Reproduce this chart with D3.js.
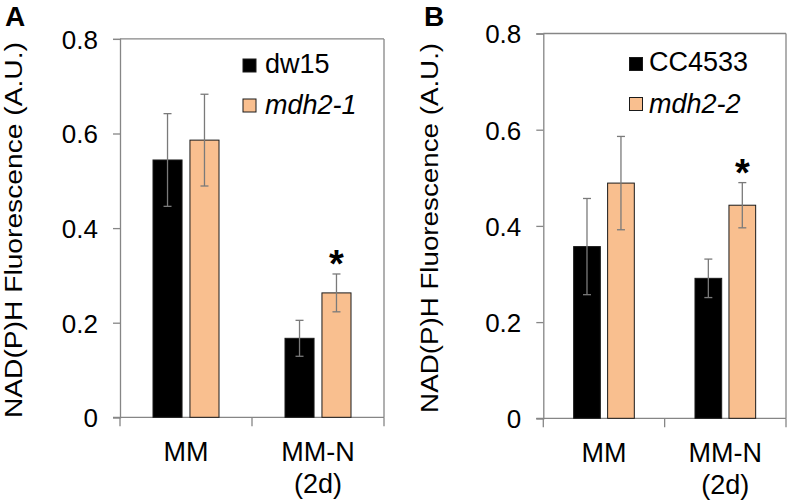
<!DOCTYPE html>
<html>
<head>
<meta charset="utf-8">
<script src="https://cdn.jsdelivr.net/npm/d3@7"></script>
<style>
  html, body { margin: 0; padding: 0; background: #fff; }
  svg { display: block; font-family: "Liberation Sans", Arial, sans-serif; }
</style>
</head>
<body>
<svg id="chart" width="789" height="502"></svg>
<script>
// ---- data ----
const categories = [["MM"], ["MM-N", "(2d)"]];
const yTicks = [0, 0.2, 0.4, 0.6, 0.8];
const yTickLabels = ["0", "0.2", "0.4", "0.6", "0.8"];
const yTitle = "NAD(P)H Fluorescence (A.U.)";

const seriesA = ["dw15", "mdh2-1"];
const dw15Values = [0.544, 0.167];
const dw15Errors = [0.098, 0.038];
const mdh21Values = [0.586, 0.263];
const mdh21Errors = [0.097, 0.040];
const mdh21Signif = [false, true];

const seriesB = ["CC4533", "mdh2-2"];
const cc4533Values = [0.357, 0.291];
const cc4533Errors = [0.100, 0.040];
const mdh22Values = [0.489, 0.443];
const mdh22Errors = [0.097, 0.047];
const mdh22Signif = [false, true];

const colors = ["#000000", "#F9BF8F"];
const italic = [false, true];

const panels = [
  {
    letter: "A", series: seriesA,
    values: [dw15Values, mdh21Values], errors: [dw15Errors, mdh21Errors], signif: [null, mdh21Signif],
    left: 120, right: 384, top: 38.9, bottom: 417.3,
    titleX: 21.5, titleLen: 376, letterX: 5,
    legendX: 243, legendY: [59, 99], legendTextX: 265, legendBase: [73, 114]
  },
  {
    letter: "B", series: seriesB,
    values: [cc4533Values, mdh22Values], errors: [cc4533Errors, mdh22Errors], signif: [null, mdh22Signif],
    left: 543.3, right: 786, top: 33.5, bottom: 418.3,
    titleX: 437.5, titleLen: 370, letterX: 424,
    legendX: 629.5, legendY: [57.5, 97.5], legendTextX: 649, legendBase: [71, 113]
  }
];

const svg = d3.select("#chart");
const axisColor = "#868686";

panels.forEach(p => {
  const g = svg.append("g");
  const y = d3.scaleLinear().domain([0, 0.8]).range([p.bottom, p.top]);
  const x0 = d3.scaleBand().domain(d3.range(categories.length)).range([p.left, p.right]).padding(0);
  const x1 = d3.scaleBand().domain(d3.range(p.series.length)).range([0, x0.bandwidth()])
    .paddingInner(0.214).paddingOuter(0.893);

  // frame: top and right borders
  g.append("line").attr("x1", p.left).attr("x2", p.right).attr("y1", p.top).attr("y2", p.top)
    .attr("stroke", axisColor).attr("stroke-width", 1.3);
  g.append("line").attr("x1", p.right).attr("x2", p.right).attr("y1", p.top).attr("y2", p.bottom)
    .attr("stroke", axisColor).attr("stroke-width", 1.3);

  // y axis
  const yAxis = d3.axisLeft(y).tickValues(yTicks).tickSize(7).tickPadding(15)
    .tickFormat((d, i) => yTickLabels[i]);
  const ya = g.append("g").attr("transform", `translate(${p.left},0)`).call(yAxis);
  ya.select(".domain").attr("stroke", axisColor).attr("stroke-width", 1.3);
  ya.selectAll(".tick line").attr("stroke", axisColor).attr("stroke-width", 1.3);
  ya.selectAll(".tick text").attr("font-size", 26).attr("fill", "#000")
    .attr("font-family", "Liberation Sans, Arial, sans-serif").attr("dy", "0.36em");

  // x axis with ticks at category boundaries
  const xa = g.append("g").attr("transform", `translate(0,${p.bottom})`);
  xa.append("line").attr("x1", p.left - 7).attr("x2", p.right).attr("stroke", axisColor).attr("stroke-width", 1.3);
  const bounds = x0.domain().map(i => x0(i)).concat([x0(x0.domain().length - 1) + x0.bandwidth()]);
  xa.selectAll("line.xt").data(bounds).join("line").attr("class", "xt")
    .attr("x1", d => d).attr("x2", d => d).attr("y1", 0).attr("y2", 9)
    .attr("stroke", axisColor).attr("stroke-width", 1.3);
  categories.forEach((lines, i) => {
    const t = xa.append("text").attr("x", x0(i) + x0.bandwidth() / 2).attr("text-anchor", "middle")
      .attr("font-size", 27).attr("fill", "#000");
    lines.forEach((ln, j) => {
      t.append("tspan").attr("x", x0(i) + x0.bandwidth() / 2).attr("y", 44 + j * 32).text(ln);
    });
  });

  // bars
  p.series.forEach((s, si) => {
    const vals = p.values[si], errs = p.errors[si];
    const rows = vals.map((v, i) => ({ i, v, e: errs[i], sig: p.signif[si] ? p.signif[si][i] : false }));
    const bg = g.append("g");
    const cx = d => x0(d.i) + x1(si) + x1.bandwidth() / 2;
    bg.selectAll("rect").data(rows).join("rect")
      .attr("x", d => x0(d.i) + x1(si))
      .attr("y", d => y(d.v))
      .attr("width", x1.bandwidth())
      .attr("height", d => y(0) - y(d.v))
      .attr("fill", colors[si])
      .attr("stroke", "#1a1a1a").attr("stroke-width", 1);
    // error bars
    bg.selectAll("line.ev").data(rows).join("line").attr("class", "ev")
      .attr("x1", cx).attr("x2", cx)
      .attr("y1", d => y(d.v + d.e)).attr("y2", d => y(d.v - d.e))
      .attr("stroke", "#7a7a7a").attr("stroke-width", 1.3);
    bg.selectAll("line.et").data(rows).join("line").attr("class", "et")
      .attr("x1", d => cx(d) - 4).attr("x2", d => cx(d) + 4)
      .attr("y1", d => y(d.v + d.e)).attr("y2", d => y(d.v + d.e))
      .attr("stroke", "#7a7a7a").attr("stroke-width", 1.3);
    bg.selectAll("line.eb").data(rows).join("line").attr("class", "eb")
      .attr("x1", d => cx(d) - 4).attr("x2", d => cx(d) + 4)
      .attr("y1", d => y(d.v - d.e)).attr("y2", d => y(d.v - d.e))
      .attr("stroke", "#7a7a7a").attr("stroke-width", 1.3);
    // significance
    bg.selectAll("text.sig").data(rows.filter(d => d.sig)).join("text").attr("class", "sig")
      .attr("x", cx).attr("y", d => y(d.v + d.e) + 3)
      .attr("text-anchor", "middle").attr("font-size", 38).attr("font-weight", "bold")
      .attr("fill", "#000").text("*");
  });

  // legend
  p.series.forEach((s, si) => {
    g.append("rect").attr("x", p.legendX).attr("y", p.legendY[si]).attr("width", 13).attr("height", 13)
      .attr("fill", colors[si]).attr("stroke", "#1a1a1a").attr("stroke-width", 1);
    g.append("text").attr("x", p.legendTextX).attr("y", p.legendBase[si])
      .attr("font-size", 27).attr("fill", "#000")
      .attr("font-style", italic[si] ? "italic" : "normal").text(s);
  });

  // y title
  const cy = (p.top + p.bottom) / 2 + 2;
  g.append("text").attr("transform", `translate(${p.titleX},${cy}) rotate(-90)`)
    .attr("text-anchor", "middle").attr("font-size", 23).attr("fill", "#000")
    .attr("textLength", p.titleLen).attr("lengthAdjust", "spacingAndGlyphs")
    .text(yTitle);

  // panel letter
  g.append("text").attr("x", p.letterX).attr("y", 26).attr("font-size", 28).attr("font-weight", "bold")
    .attr("fill", "#000").text(p.letter);
});
</script>
</body>
</html>
